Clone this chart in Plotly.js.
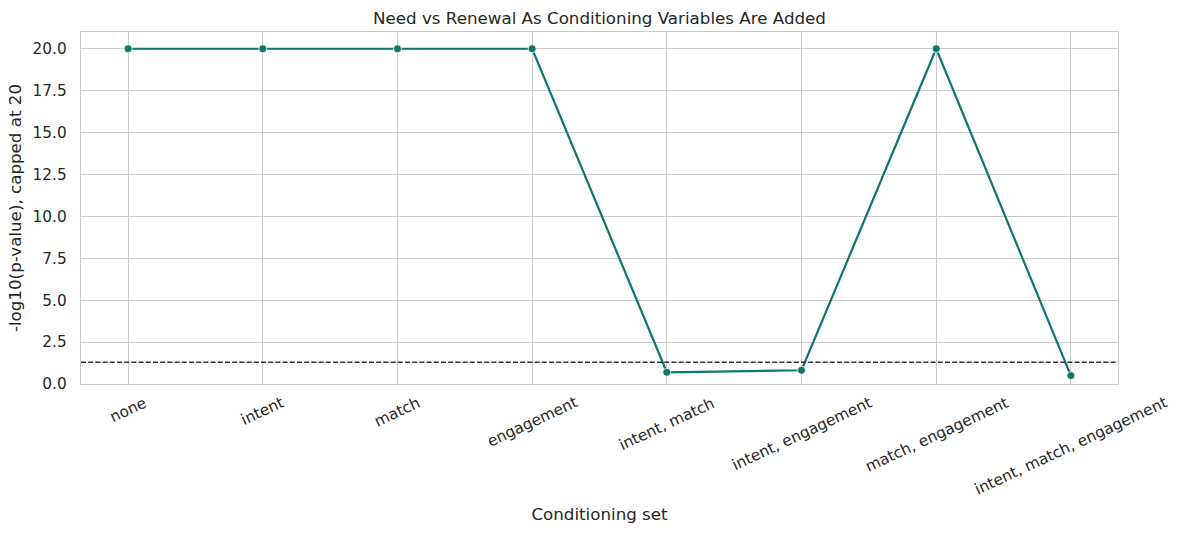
<!DOCTYPE html>
<html>
<head>
<meta charset="utf-8">
<script src="https://cdn.plot.ly/plotly-3.0.1.min.js"></script>
<style>html,body{margin:0;padding:0;background:#fff;}#chart{width:1179px;height:534px;}</style>
</head>
<body>
<div id="chart"></div>
<script>
const categories = ["none", "intent", "match", "engagement", "intent, match", "intent, engagement", "match, engagement", "intent, match, engagement"];
const values = [20, 20, 20, 20, 0.70, 0.82, 20, 0.50];
const threshold = 1.30103; // -log10(0.05)
const yTicks = [0, 2.5, 5, 7.5, 10, 12.5, 15, 17.5, 20];

const FONT = "DejaVu Sans, sans-serif";
const TXT = "#262626";
const idx = categories.map((_, i) => i);

const trace = {
  x: idx,
  y: values,
  type: "scatter",
  mode: "lines+markers",
  line: {color: "#0f766e", width: 2.2},
  marker: {color: "#0f766e", size: 8, line: {color: "#ffffff", width: 0.8}},
  hoverinfo: "skip"
};

const labelAnns = categories.map((c, i) => ({
  x: i, xref: "x", y: 0, yref: "paper",
  text: c, showarrow: false, textangle: -25,
  xanchor: "center", yanchor: "top", yshift: -7,
  font: {family: FONT, size: 15.3, color: TXT}
}));

const layout = {
  width: 1179, height: 534,
  margin: {l: 81, r: 61, t: 32, b: 150},
  paper_bgcolor: "#ffffff", plot_bgcolor: "#ffffff",
  showlegend: false,
  title: {
    text: "Need vs Renewal As Conditioning Variables Are Added",
    font: {family: FONT, size: 16.7, color: TXT},
    x: 0.5, xref: "paper", xanchor: "center",
    y: 1, yref: "paper", yanchor: "bottom", pad: {b: 8}
  },
  xaxis: {
    range: [-0.35, 7.35],
    tickvals: idx, ticktext: categories,
    showticklabels: false,
    showgrid: true, gridcolor: "#cccccc", gridwidth: 1,
    zeroline: false,
    showline: true, mirror: true, linecolor: "#cccccc", linewidth: 1.3,
    title: {text: "Conditioning set", font: {family: FONT, size: 16.7, color: TXT}, standoff: 124}
  },
  yaxis: {
    range: [0, 21],
    tickvals: yTicks, tickformat: ".1f",
    tickfont: {family: FONT, size: 15.3, color: TXT},
    ticklabelstandoff: 10,
    showgrid: true, gridcolor: "#cccccc", gridwidth: 1,
    zeroline: false,
    showline: true, mirror: true, linecolor: "#cccccc", linewidth: 1.3,
    title: {text: "-log10(p-value), capped at 20", font: {family: FONT, size: 16.7, color: TXT}, standoff: 6}
  },
  shapes: [{
    type: "line", xref: "paper", x0: 0, x1: 1, yref: "y", y0: threshold, y1: threshold,
    line: {color: "#333333", width: 1.5, dash: "5px,2.2px"}, layer: "above"
  }],
  annotations: labelAnns
};

Plotly.newPlot("chart", [trace], layout, {displayModeBar: false, staticPlot: true});
</script>
</body>
</html>
